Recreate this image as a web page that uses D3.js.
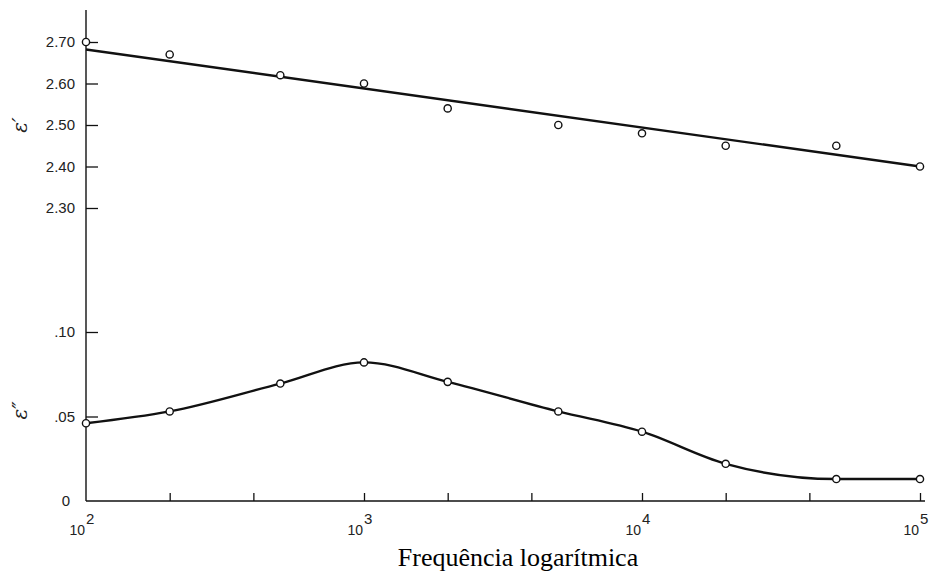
<!DOCTYPE html>
<html>
<head>
<meta charset="utf-8">
<script src="https://cdn.jsdelivr.net/npm/d3@7.9.0/dist/d3.min.js"></script>
<style>
  body { margin: 0; background: #fff; }
  svg { display: block; }
  .tick text { font-family: "Liberation Sans", Arial, sans-serif; fill: #222; }
</style>
</head>
<body>
<svg id="chart" width="940" height="574"></svg>
<script>
// frequencies (Hz) where the measurements were taken
const freqs = [100, 200, 500, 1000, 2000, 5000, 10000, 20000, 50000, 100000];

// real part of permittivity (e')
const epsReal = [2.70, 2.67, 2.62, 2.60, 2.54, 2.50, 2.48, 2.45, 2.45, 2.40];
// straight fitted line through e' (value at first and last frequency)
const fitFreqs = [100, 100000];
const fitReal = [2.682, 2.40];

// imaginary part (e'')
const epsImag = [0.046, 0.053, 0.0695, 0.082, 0.0705, 0.053, 0.041, 0.022, 0.013, 0.013];

// ticks
const xMajor = [100, 1000, 10000, 100000];
const xMinor = [200, 400, 2000, 4000, 20000, 40000];
const topTicks = [2.30, 2.40, 2.50, 2.60, 2.70];
const botTicks = [0, 0.05, 0.10];

const svg = d3.select('#chart');

const x = d3.scaleLog().domain([100, 100000]).range([86, 920]);
const yTop = d3.scaleLinear().domain([2.30, 2.70]).range([208, 42]);
const yBot = d3.scaleLinear().domain([0, 0.10]).range([501, 332]);

// vertical axis line (one continuous line for both panels)
svg.append('line')
  .attr('x1', x(100)).attr('x2', x(100))
  .attr('y1', 10).attr('y2', yBot(0))
  .attr('stroke', '#111').attr('stroke-width', 1.4);

// horizontal axis line
svg.append('line')
  .attr('x1', x(100)).attr('x2', x(100000) + 5)
  .attr('y1', yBot(0)).attr('y2', yBot(0))
  .attr('stroke', '#111').attr('stroke-width', 1.4);

// top y axis
const gTop = svg.append('g')
  .attr('transform', `translate(${x(100)},0)`)
  .call(d3.axisLeft(yTop).tickValues(topTicks).tickFormat(d3.format('.2f'))
    .tickSizeInner(-12).tickSizeOuter(0).tickPadding(11));
gTop.select('.domain').remove();

// bottom y axis
const fmtBot = d => d === 0 ? '0' : d3.format('.2f')(d).replace(/^0/, '');
const gBot = svg.append('g')
  .attr('transform', `translate(${x(100)},0)`)
  .call(d3.axisLeft(yBot).tickValues(botTicks.filter(d => d > 0)).tickFormat(fmtBot)
    .tickSizeInner(-12).tickSizeOuter(0).tickPadding(11));
gBot.select('.domain').remove();

// "0" label sits a bit left, no tick
svg.append('text')
  .attr('x', x(100) - 16).attr('y', yBot(0) + 5)
  .attr('text-anchor', 'end')
  .attr('font-family', 'Liberation Sans, Arial, sans-serif')
  .attr('font-size', 15).attr('fill', '#222')
  .text(fmtBot(0));

[gTop, gBot].forEach(g => {
  g.selectAll('.tick line').attr('stroke', '#111').attr('stroke-width', 1.3);
  g.selectAll('.tick text').attr('font-size', 15);
});

// x axis ticks (pointing up)
const gX = svg.append('g')
  .attr('transform', `translate(0,${yBot(0)})`)
  .call(d3.axisBottom(x).tickValues(xMajor.concat(xMinor)).tickFormat('')
    .tickSizeInner(-8).tickSizeOuter(0));
gX.select('.domain').remove();
gX.selectAll('.tick line').attr('stroke', '#111').attr('stroke-width', 1.3);
gX.selectAll('.tick').filter(d => d === 100).select('line').remove();

// x tick labels: 10 with superscript exponent
const xl = svg.append('g')
  .selectAll('text')
  .data(xMajor)
  .join('text')
  .attr('x', d => x(d) - 4)
  .attr('y', yBot(0) + 34)
  .attr('text-anchor', 'middle')
  .attr('font-family', 'Liberation Sans, Arial, sans-serif')
  .attr('font-size', 14).attr('fill', '#222');
xl.append('tspan').text('10');
xl.append('tspan')
  .attr('dy', -11).attr('dx', 1).attr('font-size', 15)
  .text(d => Math.round(Math.log10(d)));

// e' fitted straight line
const fitData = fitFreqs.map((f, i) => ({ f, v: fitReal[i] }));
svg.append('path')
  .datum(fitData)
  .attr('fill', 'none')
  .attr('stroke', '#111')
  .attr('stroke-width', 2.4)
  .attr('d', d3.line().x(d => x(d.f)).y(d => yTop(d.v)));

// e'' smooth curve
const imagData = freqs.map((f, i) => ({ f, v: epsImag[i] }));
svg.append('path')
  .datum(imagData)
  .attr('fill', 'none')
  .attr('stroke', '#111')
  .attr('stroke-width', 2.4)
  .attr('d', d3.line().x(d => x(d.f)).y(d => yBot(d.v)).curve(d3.curveMonotoneX));

// points (open circles)
const realData = freqs.map((f, i) => ({ f, v: epsReal[i] }));
svg.append('g').selectAll('circle')
  .data(realData)
  .join('circle')
  .attr('cx', d => x(d.f)).attr('cy', d => yTop(d.v))
  .attr('r', 3.6)
  .attr('fill', '#fff').attr('stroke', '#111').attr('stroke-width', 1.4);

svg.append('g').selectAll('circle')
  .data(imagData)
  .join('circle')
  .attr('cx', d => x(d.f)).attr('cy', d => yBot(d.v))
  .attr('r', 3.6)
  .attr('fill', '#fff').attr('stroke', '#111').attr('stroke-width', 1.4);

// axis symbols (rotated)
svg.append('text')
  .attr('transform', `translate(27,${yTop(2.5)}) rotate(-90)`)
  .attr('text-anchor', 'middle')
  .attr('font-family', 'DejaVu Serif, serif')
  .attr('font-style', 'italic')
  .attr('font-size', 20).attr('fill', '#222')
  .text('ε′');

svg.append('text')
  .attr('transform', `translate(27,${yBot(0.05) - 6}) rotate(-90)`)
  .attr('text-anchor', 'middle')
  .attr('font-family', 'DejaVu Serif, serif')
  .attr('font-style', 'italic')
  .attr('font-size', 20).attr('fill', '#222')
  .text('ε″');

// x axis title
svg.append('text')
  .attr('x', 518).attr('y', 566)
  .attr('text-anchor', 'middle')
  .attr('font-family', 'Liberation Serif, Times New Roman, serif')
  .attr('font-size', 26).attr('fill', '#000')
  .text('Frequência logarítmica');
</script>
</body>
</html>
